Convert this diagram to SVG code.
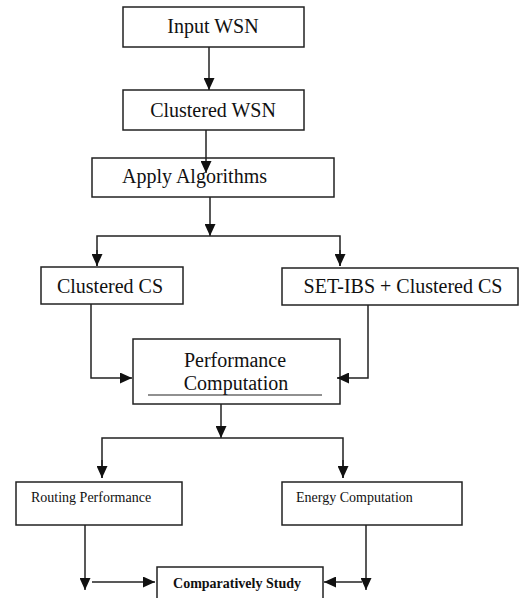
<svg xmlns="http://www.w3.org/2000/svg" width="519" height="598" viewBox="0 0 519 598">
<style>
.box{fill:#fff;stroke:#222;stroke-width:1.5}
.t{font-family:"Liberation Serif","Times New Roman",serif;fill:#111;font-size:20px}
.s{font-size:14px}
.b{font-weight:bold}
.c{fill:none;stroke:#222;stroke-width:1.5}
</style>
<defs>
<marker id="ah" markerUnits="userSpaceOnUse" markerWidth="12" markerHeight="11" refX="12" refY="5.5" orient="auto">
<path d="M0,0 L12,5.5 L0,11 z" fill="#111"/>
</marker>
</defs>
<rect width="519" height="598" fill="#fff"/>
<g id="n-input"><rect class="box" x="123" y="7" width="181" height="40"/><text class="t" x="213" y="33" text-anchor="middle">Input WSN</text></g>
<g id="n-clustered"><rect class="box" x="123" y="90" width="181" height="40"/><text class="t" x="213" y="117" text-anchor="middle">Clustered WSN</text></g>
<g id="n-apply"><rect class="box" x="92" y="158" width="242" height="39"/><text class="t" x="122" y="183">Apply Algorithms</text></g>
<g id="n-ccs"><rect class="box" x="41" y="267" width="142" height="37"/><text class="t" x="110" y="293" text-anchor="middle">Clustered CS</text></g>
<g id="n-setibs"><rect class="box" x="282" y="268" width="236" height="37"/><text class="t" x="403" y="293" text-anchor="middle">SET-IBS + Clustered CS</text></g>
<g id="n-perf"><rect class="box" x="133" y="339" width="207" height="65"/><text class="t" x="235" y="367" text-anchor="middle">Performance</text><text class="t" x="236" y="390" text-anchor="middle">Computation</text><line x1="148" y1="395" x2="322" y2="395" stroke="#222" stroke-width="1.2"/></g>
<g id="n-routing"><rect class="box" x="16" y="482" width="166" height="43"/><text class="t s" x="31" y="502">Routing Performance</text></g>
<g id="n-energy"><rect class="box" x="282" y="482" width="180" height="43"/><text class="t s" x="296" y="502">Energy Computation</text></g>
<g id="n-study"><rect class="box" x="157" y="567" width="166" height="40"/><text class="t s b" x="237" y="588" text-anchor="middle">Comparatively Study</text></g>
<g id="connectors">
<line class="c" x1="209" y1="47" x2="209" y2="90" marker-end="url(#ah)"/>
<line class="c" x1="206" y1="130" x2="206" y2="173" marker-end="url(#ah)"/>
<line class="c" x1="210" y1="197" x2="210" y2="236" marker-end="url(#ah)"/>
<polyline class="c" points="97,266 97,236 340,236 340,266"/>
<line class="c" x1="97" y1="250" x2="97" y2="266" marker-end="url(#ah)"/>
<line class="c" x1="340" y1="250" x2="340" y2="266" marker-end="url(#ah)"/>
<polyline class="c" points="91,304 91,378 132,378" marker-end="url(#ah)"/>
<polyline class="c" points="368,305 368,378 337,378" marker-end="url(#ah)"/>
<line class="c" x1="221" y1="404" x2="221" y2="438" marker-end="url(#ah)"/>
<polyline class="c" points="102,478 102,438 343,438 343,478"/>
<line class="c" x1="102" y1="460" x2="102" y2="478" marker-end="url(#ah)"/>
<line class="c" x1="343" y1="460" x2="343" y2="478" marker-end="url(#ah)"/>
<line class="c" x1="85" y1="525" x2="85" y2="590" marker-end="url(#ah)"/>
<line class="c" x1="92" y1="582" x2="155" y2="582" marker-end="url(#ah)"/>
<line class="c" x1="366" y1="525" x2="366" y2="590" marker-end="url(#ah)"/>
<line class="c" x1="362" y1="582" x2="324" y2="582" marker-end="url(#ah)"/>
</g>
</svg>
